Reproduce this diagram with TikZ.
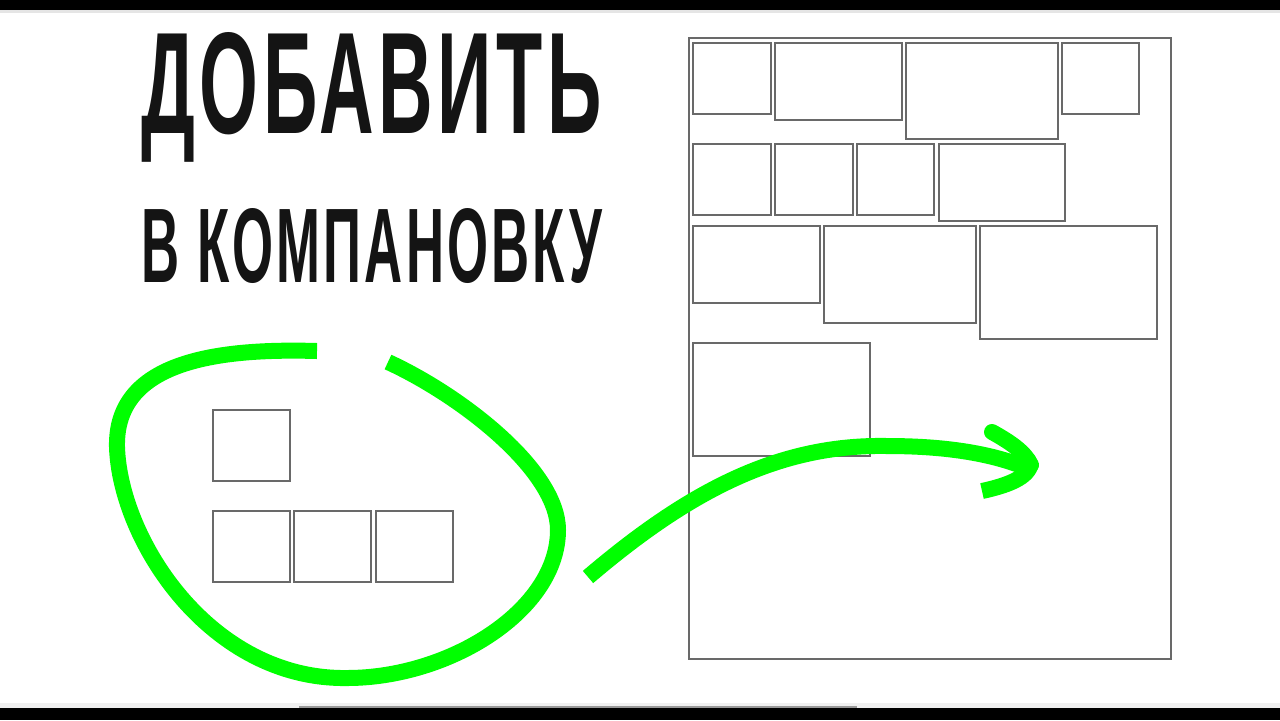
\documentclass[tikz,border=0pt]{standalone}
\usepackage{fontspec}
\setmainfont{Liberation Sans}
\usetikzlibrary{positioning}
\definecolor{marker}{RGB}{0,255,0}
\definecolor{frame}{RGB}{105,105,105}

\begin{document}
\begin{tikzpicture}[x=0.5pt,y=-0.5pt,
  panel/.style={draw=frame,line width=0.6pt},
  stroke/.style={draw=marker,line width=8pt},
  title/.style={anchor=base west,inner sep=0pt,text=black!92,font=\bfseries\addfontfeature{LetterSpace=6}}]
 \useasboundingbox (0,0) rectangle (1280,720);

    % draw screen bars
    \fill[black] (0,0) rectangle (1280,10);
    \fill[black!10] (0,10) rectangle (1280,13);
    \fill[black!6] (0,703) rectangle (1280,708);
    \fill[black] (0,708) rectangle (1280,720);
    \draw[black!40,line width=1pt] (299,706.5) -- (857,706.5);

    % draw title
    \node[title] (line1) at (141,133) {\resizebox{230pt}{50.5pt}{ДОБАВИТЬ}};
    \node[title] (line2) at (141,282) {\resizebox{230.5pt}{37pt}{В КОМПАНОВКУ}};

    % draw page and its frames
    \draw[panel] (689,38) rectangle (1171,659);
    \foreach \xa/\ya/\xb/\yb in {693/43/771/114, 775/43/902/120, 906/43/1058/139, 1062/43/1139/114,
        693/144/771/215, 775/144/853/215, 857/144/934/215, 939/144/1065/221,
        693/226/820/303, 824/226/976/323, 980/226/1157/339,
        693/343/870/456}
      \draw[panel] (\xa,\ya) rectangle (\xb,\yb);

    % draw new frames
    \draw[panel] (213,410) rectangle (290,481);
    \foreach \xa in {213,294,376}
      \draw[panel] (\xa,511) rectangle +(77,71);

    % draw loop
    \draw[stroke] (317,351) .. controls (215,348) and (115,362) .. (117,447)
                            .. controls (120,540) and (210,680) .. (347,678)
                            .. controls (450,678) and (558,610) .. (558,530)
                            .. controls (558,470) and (460,395) .. (388,362);

    % draw arrow
    \draw[stroke] (588,577) .. controls (690,490) and (780,444) .. (887,446)
                            .. controls (940,446) and (985,452) .. (1022,466);
    \draw[stroke,line cap=round] (992,432) .. controls (1010,442) and (1025,452) .. (1031,465);
    \draw[stroke] (1031,462) .. controls (1030,478) and (1005,486) .. (982,491);

\end{tikzpicture}
\end{document}
